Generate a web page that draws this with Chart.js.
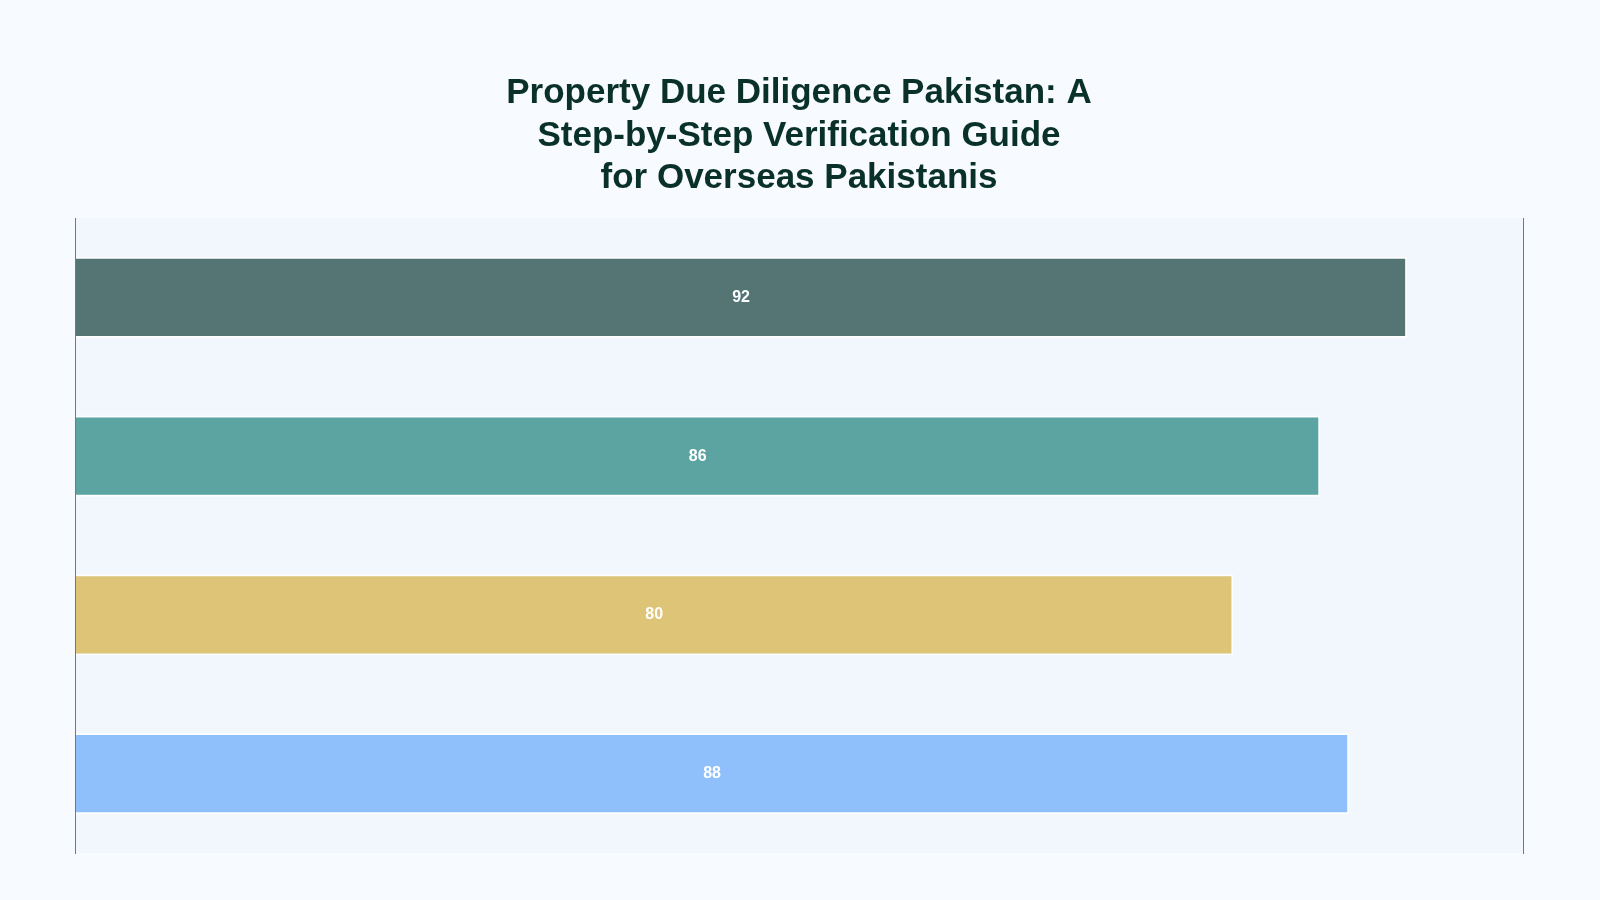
<!DOCTYPE html>
<html>
<head>
<meta charset="utf-8">
<script src="https://cdn.jsdelivr.net/npm/chart.js@4.4.0/dist/chart.umd.min.js"></script>
<style>
  html, body { margin: 0; padding: 0; background: #f7fbff; }
  #wrap { width: 1600px; height: 900px; position: relative; }
</style>
</head>
<body>
<div id="wrap"><canvas id="chart"></canvas></div>
<script>
// data
const categories = ['Title Verification', 'Approvals & NOCs', 'Encumbrance Check', 'Developer Track Record'];
const scores = [92, 86, 80, 88];
const barColors = ['#557575', '#5ca4a2', '#dec477', '#90c0fb'];
const titleLines = ['Property Due Diligence Pakistan: A', 'Step-by-Step Verification Guide', 'for Overseas Pakistanis'];

// fill the plot area
const areaBg = {
  id: 'areaBg',
  beforeDraw(chart) {
    const { ctx, chartArea: a } = chart;
    ctx.save();
    ctx.fillStyle = '#f2f7fd';
    ctx.fillRect(a.left, a.top, a.right - a.left, a.bottom - a.top);
    ctx.restore();
  }
};

// value in the middle of each bar
const barLabels = {
  id: 'barLabels',
  afterDatasetsDraw(chart) {
    const { ctx } = chart;
    const meta = chart.getDatasetMeta(0);
    ctx.save();
    ctx.fillStyle = '#ffffff';
    ctx.font = 'bold 16px "Liberation Sans", Arial, sans-serif';
    ctx.textAlign = 'center';
    ctx.textBaseline = 'middle';
    meta.data.forEach((bar, i) => {
      const x = (bar.x + bar.base) / 2;
      ctx.fillText(String(scores[i]), x, bar.y);
    });
    ctx.restore();
  }
};

new Chart(document.getElementById('chart'), {
  type: 'bar',
  data: {
    labels: categories,
    datasets: [{
      label: 'Score',
      data: scores,
      backgroundColor: barColors,
      borderColor: 'rgba(255,255,255,0.85)',
      borderWidth: 2,
      barPercentage: 0.64,
      categoryPercentage: 0.8
    }]
  },
  options: {
    indexAxis: 'y',
    responsive: true,
    maintainAspectRatio: false,
    animation: false,
    layout: { padding: { left: 67, right: 69, top: 0, bottom: 47 } },
    plugins: {
      legend: { display: false },
      tooltip: { enabled: false },
      title: {
        display: true,
        text: titleLines,
        color: '#0a302a',
        font: { family: '"Liberation Sans", Arial, sans-serif', size: 35, weight: 'bold', lineHeight: 1.22 },
        padding: { top: 72, bottom: 18 }
      }
    },
    scales: {
      x: { display: false, min: 0, max: 100 },
      y: {
        ticks: { display: false },
        grid: { display: false },
        border: { display: true, color: '#777777', width: 1, z: 1 }
      },
      y2: {
        type: 'category',
        position: 'right',
        ticks: { display: false },
        grid: { display: false },
        border: { display: true, color: '#777777', width: 1, z: 1 }
      }
    }
  },
  plugins: [areaBg, barLabels]
});
</script>
</body>
</html>
